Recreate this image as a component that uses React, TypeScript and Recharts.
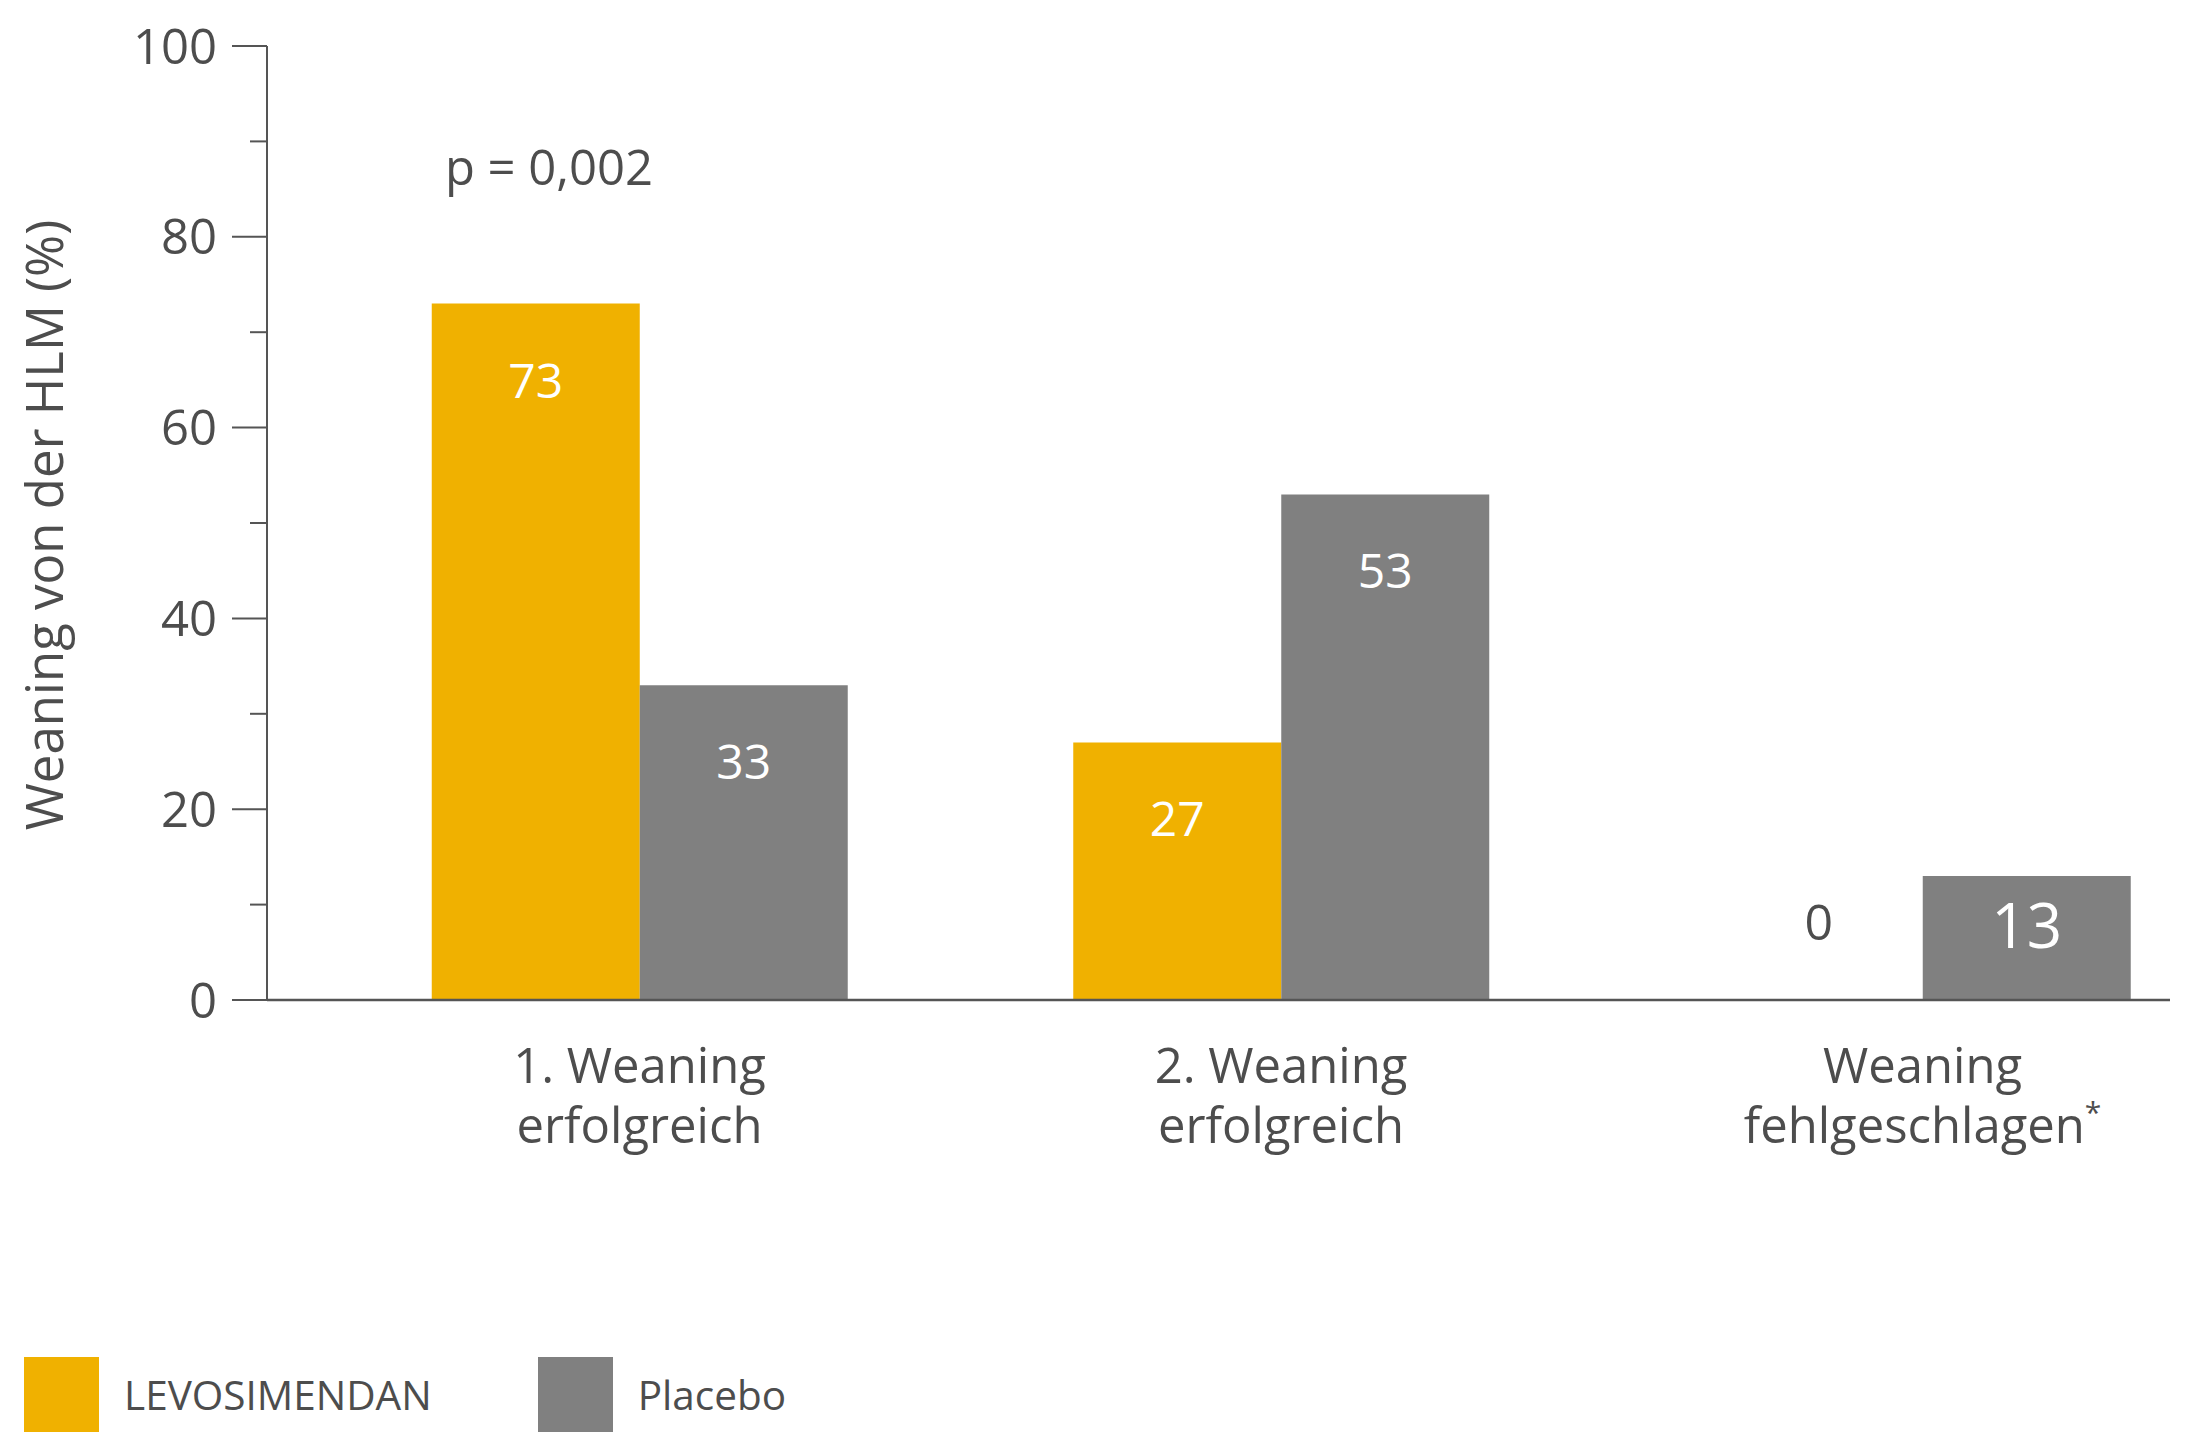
import React from "react"
import { BarChart, Bar, XAxis, YAxis, LabelList } from "recharts"

const CATEGORIES = ["1. Weaning\nerfolgreich", "2. Weaning\nerfolgreich", "Weaning\nfehlgeschlagen*"]
const LEVOSIMENDAN = [73, 27, 0]
const PLACEBO = [33, 53, 13]
const Y_TICKS = [0, 10, 20, 30, 40, 50, 60, 70, 80, 90, 100]
const SERIES = [
  { key: "levo", name: "LEVOSIMENDAN", color: "#f0b100" },
  { key: "placebo", name: "Placebo", color: "#808080" },
]
const P_VALUE = "p = 0,002"
const Y_LABEL = "Weaning von der HLM (%)"

const TEXT = "#4d4d4d"
const AXIS = "#555555"
const FONT = "'Open Sans', sans-serif"

const data = CATEGORIES.map((name, i) => ({
  name,
  levo: LEVOSIMENDAN[i],
  placebo: PLACEBO[i],
}))

function YTick(props: any) {
  const { x, y, payload } = props
  const v = payload.value
  const major = v % 20 === 0
  const axisX = x + 50
  return (
    <g>
      <line x1={axisX - (major ? 35 : 17)} x2={axisX} y1={y} y2={y} stroke={AXIS} strokeWidth={2} />
      {major && (
        <text x={x} y={y} dy="0.36em" textAnchor="end" fill={TEXT} fontSize={49} style={{ fontFamily: FONT }}>
          {v}
        </text>
      )}
    </g>
  )
}

function XTick(props: any) {
  const { x, y, payload } = props
  const lines = String(payload.value).split("\n")
  return (
    <text x={x} y={y} textAnchor="middle" fill={TEXT} fontSize={49} style={{ fontFamily: FONT }}>
      {lines.map((ln, i) => {
        const star = ln.endsWith("*")
        const txt = star ? ln.slice(0, -1) : ln
        return (
          <tspan key={i} x={x} y={y + 83 + i * 60}>
            {txt}
            {star && (
              <tspan fontSize={30} dy={-20}>
                *
              </tspan>
            )}
          </tspan>
        )
      })}
    </text>
  )
}

// white value inside the bar; a zero-height Levosimendan bar gets its "0" drawn
// above the baseline in the slot to the left of the placebo bar
function BarValue(props: any) {
  const { x, y, width, height, value, index, withZeroLevo } = props
  const cx = x + width / 2
  const v = Number(value)
  const big = index === 2
  const zero = withZeroLevo && LEVOSIMENDAN[index] === 0
  return (
    <g>
      {zero && (
        <text
          x={x - width / 2}
          y={y + height - 60}
          textAnchor="middle"
          fill={TEXT}
          fontSize={50}
          style={{ fontFamily: FONT }}
        >
          {LEVOSIMENDAN[index]}
        </text>
      )}
      {v > 0 && (
        <text
          x={cx}
          y={y + (big ? 72 : 94)}
          textAnchor="middle"
          fill="#ffffff"
          fontSize={big ? 62 : 48}
          style={{ fontFamily: FONT }}
        >
          {v}
        </text>
      )}
    </g>
  )
}

export default function App() {
  return (
    <div style={{ position: "absolute", left: 0, top: 0, width: 2194, height: 1456, background: "#fff", fontFamily: FONT }}>
      <BarChart
        width={2194}
        height={1456}
        data={data}
        margin={{ top: 46, right: 24, left: 0, bottom: 256 }}
        barGap={0}
        barSize={208}
      >
        <YAxis
          type="number"
          domain={[0, 100]}
          ticks={Y_TICKS}
          interval={0}
          width={267}
          tickSize={35}
          tickMargin={15}
          tickLine={false}
          axisLine={{ stroke: AXIS, strokeWidth: 2 }}
          tick={<YTick />}
        />
        <XAxis
          dataKey="name"
          height={200}
          padding={{ left: 51.75, right: -73.25 }}
          tickSize={0}
          tickMargin={0}
          tickLine={false}
          interval={0}
          axisLine={{ stroke: AXIS, strokeWidth: 2.5 }}
          tick={<XTick />}
        />
        {SERIES.map((s) => (
          <Bar key={s.key} dataKey={s.key} name={s.name} fill={s.color} isAnimationActive={false}>
            <LabelList dataKey={s.key} content={<BarValue withZeroLevo={s.key === "placebo"} />} />
          </Bar>
        ))}
      </BarChart>
      <svg width={2194} height={1456} style={{ position: "absolute", left: 0, top: 0, pointerEvents: "none" }}>
        <text x={549} y={185} textAnchor="middle" fill={TEXT} fontSize={49} style={{ fontFamily: FONT }}>
          {P_VALUE}
        </text>
        <text
          transform="translate(63,525) rotate(-90)"
          textAnchor="middle"
          fill={TEXT}
          fontSize={51}
          style={{ fontFamily: FONT }}
        >
          {Y_LABEL}
        </text>
      </svg>
      <div style={{ position: "absolute", left: 24, top: 1357, display: "flex", alignItems: "center", height: 75 }}>
        {SERIES.map((s, i) => (
          <div key={s.key} style={{ display: "flex", alignItems: "center", marginRight: i === 0 ? 106 : 0 }}>
            <div style={{ width: 75, height: 75, background: s.color }} />
            <span style={{ marginLeft: 25, fontSize: 40.5, color: TEXT, lineHeight: "75px" }}>{s.name}</span>
          </div>
        ))}
      </div>
    </div>
  )
}
